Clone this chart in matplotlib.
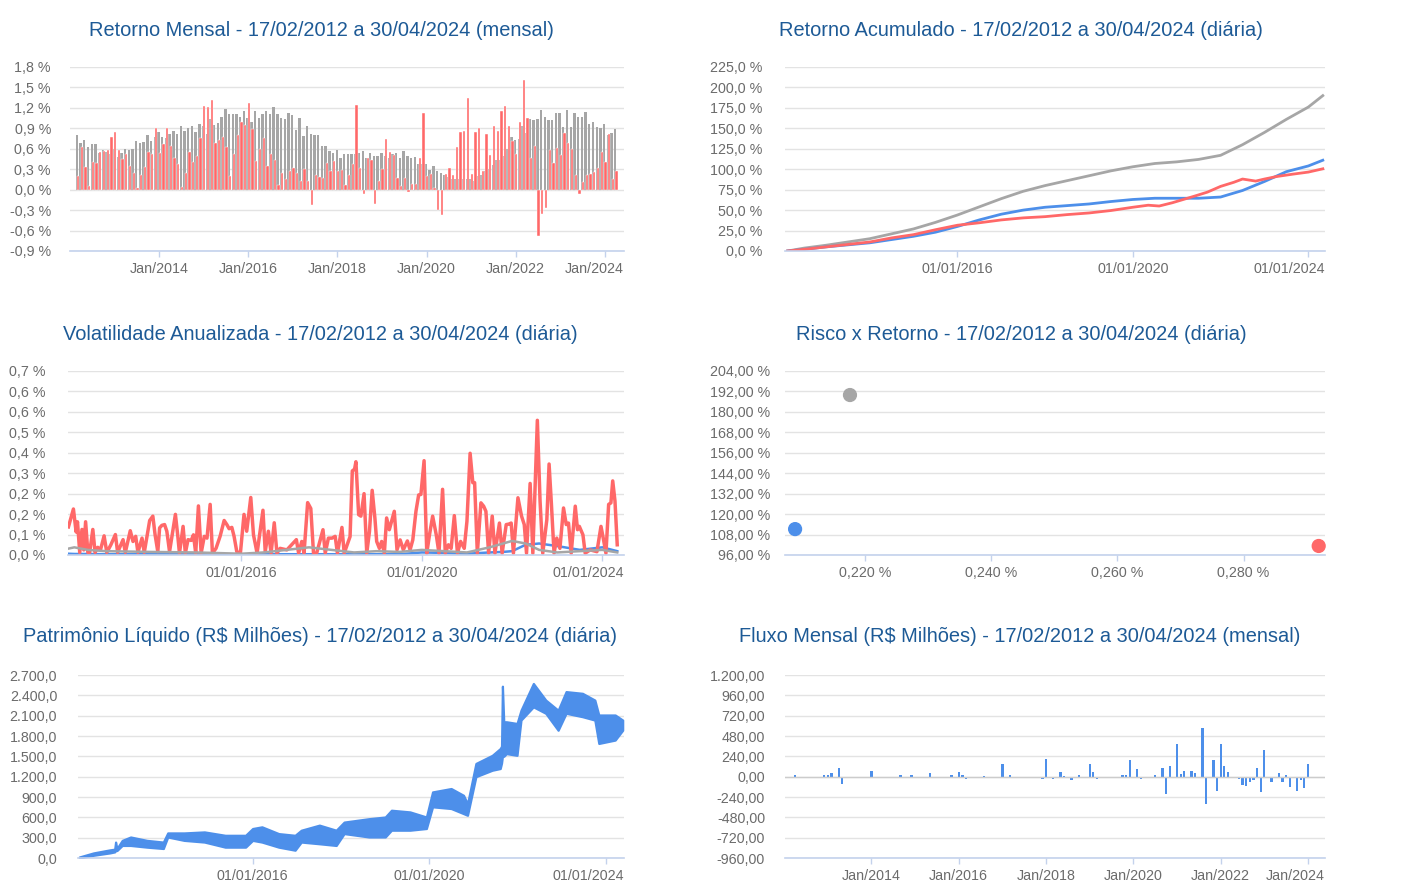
import numpy as np
import matplotlib
matplotlib.use('Agg')
import matplotlib.pyplot as plt

plt.rcParams['font.family'] = ['Liberation Sans', 'DejaVu Sans']

# ---- dados ----
# retorno mensal (%), mar/2012 .. abr/2024
fundo_mensal = [
    0.20, 0.62, 0.33, 0.06, 0.41, 0.39, 0.55, 0.57, 0.58, 0.78,              # 2012
    0.84, 0.58, 0.45, 0.53, 0.35, 0.25, 0.02, 0.22, 0.33, 0.56, 0.53, 0.90,  # 2013
    0.54, 0.67, 0.90, 0.64, 0.46, 0.38, 0.04, 0.25, 0.56, 0.41, 0.49, 0.76,  # 2014
    1.23, 1.21, 1.31, 0.69, 0.73, 0.78, 0.62, 0.20, 0.53, 0.80, 1.00, 0.95,  # 2015
    1.27, 0.89, 0.42, 0.59, 0.76, 0.34, 0.52, 0.44, 0.07, 0.25, 0.16, 0.28,  # 2016
    0.32, 0.25, 0.12, 0.30, 0.13, -0.22, 0.21, 0.18, 0.17, 0.39, 0.27, 0.42, # 2017
    0.28, 0.29, 0.07, 0.21, 0.37, 1.24, 0.32, -0.07, 0.47, 0.43, -0.21, 0.12,# 2018
    0.30, 0.74, 0.55, 0.51, 0.17, 0.05, 0.17, -0.03, 0.08, 0.08, 0.46, 1.12, # 2019
    0.20, 0.23, 0.03, -0.30, -0.37, 0.23, 0.32, 0.21, 0.62, 0.84, 0.86, 1.34,# 2020
    0.23, 0.84, 0.91, 0.28, 0.82, 0.51, 0.93, 0.86, 1.15, 1.23, 0.93, 0.72,  # 2021
    0.53, 0.99, 1.61, 1.05, 0.46, 0.64, -0.68, -0.35, -0.27, 0.58, 0.39, 0.61,  # 2022
    0.51, 0.83, 0.69, 0.59, 0.21, -0.07, 0.11, 0.22, 0.23, 0.26, 0.32, 0.55, # 2023
    0.40, 0.82, 0.15, 0.28,                                                  # 2024
]
cdi_mensal = [
    0.80, 0.69, 0.73, 0.63, 0.67, 0.67, 0.54, 0.58, 0.55, 0.53,
    0.59, 0.48, 0.54, 0.60, 0.58, 0.59, 0.71, 0.69, 0.70, 0.80, 0.71, 0.78,
    0.84, 0.78, 0.76, 0.81, 0.86, 0.82, 0.94, 0.86, 0.90, 0.94, 0.84, 0.96,
    0.93, 0.82, 1.04, 0.95, 0.98, 1.07, 1.18, 1.11, 1.11, 1.11, 1.06, 1.16,
    1.05, 1.00, 1.16, 1.05, 1.11, 1.16, 1.11, 1.21, 1.11, 1.05, 1.04, 1.12,
    1.09, 0.87, 1.05, 0.79, 0.93, 0.81, 0.80, 0.80, 0.64, 0.64, 0.57, 0.54,
    0.58, 0.47, 0.53, 0.52, 0.52, 0.52, 0.54, 0.57, 0.47, 0.54, 0.49, 0.49,
    0.54, 0.49, 0.47, 0.52, 0.54, 0.47, 0.57, 0.50, 0.46, 0.48, 0.38, 0.37,
    0.38, 0.29, 0.34, 0.28, 0.24, 0.21, 0.19, 0.16, 0.16, 0.16, 0.15, 0.16,
    0.15, 0.13, 0.20, 0.21, 0.27, 0.31, 0.36, 0.43, 0.44, 0.49, 0.59, 0.77,
    0.73, 0.75, 0.93, 0.83, 1.03, 1.02, 1.03, 1.17, 1.07, 1.02, 1.02, 1.12,
    1.12, 0.92, 1.17, 0.92, 1.12, 1.07, 1.07, 1.14, 0.97, 1.00, 0.92, 0.90,
    0.97, 0.80, 0.83, 0.89,
]
# fluxo mensal (R$ milhões)
fluxo_mensal = [
    0, 20, 0, 0, 0, 0, 0, 0, 0, 20,
    20, 40, 0, 100, -85, -20, 0, 0, -20, 0, 0, 0,
    65, 0, 0, 0, -20, 0, 0, 0, 20, 0, -20, 20,
    0, 0, 0, 0, 40, 0, -20, 0, -20, 0, 20, 0,
    50, 20, -30, 0, 0, -20, 0, 5, 0, 0, 0, -20,
    155, 0, 20, 0, 0, 0, 0, 0, -20, 0, 0, -25,
    205, 0, -30, 0, 50, 10, 0, -35, 0, 20, 0, 0,
    145, 50, -30, 0, -20, 0, 0, 0, 0, 20, 20, 195,
    0, 85, -30, 0, -20, 0, 20, 0, 100, -200, 125, 0,
    390, 30, 65, 0, 65, 40, 0, 575, -325, 0, 195, -175,
    390, 130, 50, -20, 0, -25, -95, -110, -60, -40, 100, -185,
    310, 0, -65, 0, 40, -65, 20, -125, -10, -165, -40, -135,
    145, 0, -20, 0,
]

# retorno acumulado (%)
acum_t = [2012.13, 2012.5, 2013.0, 2013.5, 2014.0, 2014.5, 2015.0, 2015.5, 2016.0,
          2016.5, 2017.0, 2017.5, 2018.0, 2018.5, 2019.0, 2019.5, 2020.0, 2020.5,
          2021.0, 2021.5, 2022.0, 2022.5, 2023.0, 2023.5, 2024.0, 2024.33]
acum_cdi = [0, 3.5, 7, 11, 15, 21, 27, 35, 44, 54, 64, 73, 80, 86, 92, 98, 103, 107,
            109, 112, 117, 130, 145, 161, 176, 190]
acum_azul = [0, 2, 5, 7.5, 10, 14, 18, 23, 30, 38, 45, 50, 53.5, 55.5, 57.5, 60.5, 63,
             64.5, 64.5, 64.5, 66, 74, 85, 97, 104, 111]
acum_fundo_t = [2012.13, 2012.5, 2013.0, 2013.5, 2014.0, 2014.5, 2015.0, 2015.5, 2016.0,
                2016.5, 2017.0, 2017.5, 2018.0, 2018.5, 2019.0, 2019.5, 2020.0, 2020.35,
                2020.6, 2020.9, 2021.4, 2021.7, 2022.0, 2022.3, 2022.5, 2022.8, 2023.0,
                2023.27, 2023.65, 2024.0, 2024.33]
acum_fundo = [0, 2, 5, 8, 11, 16, 20, 26, 31.5, 34.5, 38, 40.5, 42, 44.5, 46.5, 49.5,
              53.5, 56, 55, 59, 67, 72, 79, 84, 88, 85.5, 88, 91, 94, 96.5, 100.5]

# volatilidade anualizada (%)
vol_t = [
    2012.17, 2012.28, 2012.34, 2012.37, 2012.42, 2012.47, 2012.51, 2012.55, 2012.60, 2012.64,
    2012.71, 2012.76, 2012.82, 2012.88, 2012.96, 2013.02, 2013.11, 2013.21, 2013.26, 2013.38,
    2013.43, 2013.54, 2013.60, 2013.66, 2013.71, 2013.80, 2013.85, 2013.97, 2014.04, 2014.09,
    2014.15, 2014.19, 2014.24, 2014.30, 2014.35, 2014.41, 2014.54, 2014.59, 2014.63, 2014.71,
    2014.76, 2014.82, 2014.89, 2014.94, 2014.99, 2015.05, 2015.11, 2015.18, 2015.24, 2015.31,
    2015.36, 2015.44, 2015.53, 2015.62, 2015.68, 2015.73, 2015.79, 2015.84, 2015.90, 2015.98,
    2016.06, 2016.12, 2016.21, 2016.27, 2016.35, 2016.48, 2016.53, 2016.60, 2016.66, 2016.73,
    2016.79, 2016.86, 2017.01, 2017.22, 2017.27, 2017.34, 2017.39, 2017.47, 2017.54, 2017.60,
    2017.67, 2017.81, 2017.86, 2017.93, 2018.01, 2018.08, 2018.13, 2018.23, 2018.28, 2018.41,
    2018.46, 2018.51, 2018.54, 2018.60, 2018.65, 2018.72, 2018.78, 2018.84, 2018.90, 2018.96,
    2019.00, 2019.06, 2019.11, 2019.17, 2019.22, 2019.28, 2019.39, 2019.45, 2019.52, 2019.59,
    2019.68, 2019.74, 2019.80, 2019.87, 2019.93, 2019.98, 2020.05, 2020.11, 2020.17, 2020.24,
    2020.32, 2020.38, 2020.46, 2020.52, 2020.59, 2020.65, 2020.72, 2020.79, 2020.86, 2020.94,
    2021.00, 2021.07, 2021.13, 2021.17, 2021.23, 2021.31, 2021.37, 2021.42, 2021.48, 2021.56,
    2021.62, 2021.72, 2021.78, 2021.87, 2021.93, 2021.98, 2022.03, 2022.13, 2022.21, 2022.27,
    2022.32, 2022.40, 2022.46, 2022.56, 2022.62, 2022.68, 2022.77, 2022.82, 2022.87, 2022.93,
    2022.99, 2023.06, 2023.14, 2023.20, 2023.25, 2023.31, 2023.40, 2023.45, 2023.49, 2023.57,
    2023.62, 2023.73, 2023.88, 2023.97, 2024.02, 2024.08, 2024.14, 2024.19, 2024.23, 2024.28,
    2024.33,
]
vol_fundo = [
    0.110, 0.180, 0.090, 0.130, 0.010, 0.100, 0.020, 0.130, 0.010, 0.010,
    0.100, 0.010, 0.030, 0.020, 0.075, 0.010, 0.040, 0.080, 0.010, 0.060,
    0.010, 0.095, 0.053, 0.073, 0.010, 0.066, 0.010, 0.135, 0.152, 0.079,
    0.013, 0.106, 0.116, 0.119, 0.093, 0.013, 0.159, 0.079, 0.007, 0.112,
    0.007, 0.060, 0.057, 0.079, 0.007, 0.192, 0.007, 0.073, 0.066, 0.198,
    0.007, 0.026, 0.073, 0.135, 0.119, 0.103, 0.108, 0.073, 0.013, 0.007,
    0.159, 0.093, 0.225, 0.079, 0.007, 0.175, 0.013, 0.093, 0.007, 0.126,
    0.007, 0.026, 0.020, 0.060, 0.007, 0.053, 0.007, 0.205, 0.182, 0.007,
    0.007, 0.099, 0.007, 0.066, 0.066, 0.073, 0.007, 0.108, 0.007, 0.072,
    0.329, 0.336, 0.365, 0.158, 0.152, 0.240, 0.007, 0.092, 0.253, 0.145,
    0.053, 0.026, 0.053, 0.007, 0.145, 0.099, 0.171, 0.020, 0.059, 0.020,
    0.055, 0.020, 0.059, 0.171, 0.235, 0.237, 0.369, 0.007, 0.079, 0.152,
    0.079, 0.007, 0.257, 0.007, 0.040, 0.026, 0.154, 0.007, 0.053, 0.026,
    0.132, 0.398, 0.283, 0.283, 0.007, 0.204, 0.191, 0.171, 0.007, 0.152,
    0.007, 0.125, 0.007, 0.119, 0.121, 0.125, 0.007, 0.224, 0.152, 0.119,
    0.007, 0.280, 0.007, 0.527, 0.211, 0.007, 0.138, 0.356, 0.204, 0.007,
    0.066, 0.026, 0.184, 0.119, 0.125, 0.007, 0.191, 0.099, 0.112, 0.079,
    0.007, 0.020, 0.013, 0.112, 0.066, 0.007, 0.198, 0.204, 0.290, 0.211,
    0.040,
]
vol_bench_t = [2012.17, 2012.3, 2012.6, 2013.0, 2014.0, 2015.0, 2016.0, 2016.5, 2017.0,
               2017.5, 2018.0, 2018.5, 2019.0, 2019.5, 2020.0, 2020.5, 2021.0, 2021.5,
               2021.8, 2022.0, 2022.3, 2022.6, 2023.0, 2023.5, 2024.0, 2024.33]
vol_cdi = [0.025, 0.03, 0.02, 0.015, 0.012, 0.01, 0.005, 0.01, 0.02, 0.03, 0.02, 0.01,
           0.015, 0.012, 0.02, 0.015, 0.01, 0.03, 0.045, 0.055, 0.045, 0.02, 0.01, 0.015,
           0.02, 0.01]
vol_azul = [0.005, 0.004, 0.004, 0.003, 0.003, 0.003, 0.003, 0.003, 0.003, 0.003, 0.003,
            0.003, 0.003, 0.003, 0.01, 0.008, 0.005, 0.01, 0.012, 0.015, 0.04, 0.045,
            0.035, 0.02, 0.03, 0.015]

# risco x retorno
risco = [0.2176, 0.2089, 0.2919]
retorno = [189.9, 111.2, 101.3]

# patrimônio líquido (R$ milhões): faixa mínima / máxima
pl_t = [2012.08, 2012.4, 2012.77, 2012.88, 2012.9, 2012.93, 2013.05, 2013.24, 2013.61,
        2013.98, 2014.08, 2014.45, 2014.91, 2015.38, 2015.84, 2016.0, 2016.21, 2016.59,
        2016.96, 2017.1, 2017.51, 2017.89, 2018.07, 2018.63, 2019.0, 2019.14, 2019.56,
        2019.93, 2020.07, 2020.49, 2020.77, 2020.86, 2021.05, 2021.42, 2021.6, 2021.63,
        2021.65, 2021.68, 2021.74, 2021.98, 2022.07, 2022.35, 2022.63, 2022.91, 2023.09,
        2023.46, 2023.74, 2023.83, 2024.2, 2024.37]
pl_min = [0, 40, 75, 90, 110, 110, 185, 185, 160, 140, 310, 260, 235, 160, 160, 260, 235,
          160, 115, 235, 210, 185, 360, 310, 310, 410, 410, 435, 755, 730, 655, 630, 1200,
          1295, 1320, 1400, 1500, 1500, 1540, 1515, 2035, 2230, 2135, 1885, 2135, 2085,
          2035, 1690, 1740, 1885]
pl_max = [15, 75, 120, 130, 235, 140, 260, 310, 260, 235, 370, 370, 385, 335, 335, 435,
          460, 360, 335, 410, 485, 410, 530, 580, 605, 705, 680, 605, 975, 1025, 925, 800,
          1395, 1515, 1615, 1650, 2535, 2010, 2010, 1985, 2180, 2575, 2330, 2180, 2455,
          2430, 2330, 2110, 2110, 2035]

titulos = [
    'Retorno Mensal - 17/02/2012 a 30/04/2024 (mensal)',
    'Retorno Acumulado - 17/02/2012 a 30/04/2024 (diária)',
    'Volatilidade Anualizada - 17/02/2012 a 30/04/2024 (diária)',
    'Risco x Retorno - 17/02/2012 a 30/04/2024 (diária)',
    'Patrimônio Líquido (R$ Milhões) - 17/02/2012 a 30/04/2024 (diária)',
    'Fluxo Mensal (R$ Milhões) - 17/02/2012 a 30/04/2024 (mensal)',
]

VERMELHO = '#ff6868'
CINZA = '#a6a6a6'
AZUL = '#4d8fea'
COR_TITULO = '#1d5a96'
GRADE = '#e3e3e3'
EIXO = '#c4d2ec'
TEXTO = '#6b6b6b'
FS = 10.3

W, H = 1404, 888
fig = plt.figure(figsize=(W / 100, H / 100), dpi=100)


def eixo(l, t, r, b):
    return fig.add_axes([l / W, 1 - b / H, (r - l) / W, (b - t) / H])


def br(v, dec):
    s = f"{v + 0.0:,.{dec}f}"
    if s.startswith('-') and float(s.replace(',', '')) == 0:
        s = s[1:]
    return s.replace(',', 'X').replace('.', ',').replace('X', '.')


def estilo(ax, yticks, ylabels, ypad, xticks, xlabels, ultimo_na_borda=True):
    ax.set_ylim(yticks[0], yticks[-1])
    ax.set_yticks(yticks)
    ax.set_yticklabels(ylabels)
    ax.set_xticks(xticks)
    labels = list(xlabels)
    if ultimo_na_borda:
        ax.annotate(labels[-1], xy=(1, 0), xycoords='axes fraction', xytext=(0, -8.0),
                    textcoords='offset points', ha='right', va='top', fontsize=FS, color=TEXTO)
        labels[-1] = ''
    ax.set_xticklabels(labels)
    ax.grid(axis='y', color=GRADE, lw=1)
    ax.set_axisbelow(True)
    for s in ('top', 'right', 'left'):
        ax.spines[s].set_visible(False)
    ax.spines['bottom'].set_color(EIXO)
    ax.spines['bottom'].set_linewidth(1.2)
    ax.tick_params(axis='y', length=0, pad=ypad, labelsize=FS, labelcolor=TEXTO)
    ax.tick_params(axis='x', length=4, width=1, color=EIXO, pad=4.0, labelsize=FS, labelcolor=TEXTO)


meses = 2012 + (2 + np.arange(len(fundo_mensal))) / 12
anos_jan = [2014, 2016, 2018, 2020, 2022, 2024]
lbl_jan = [f'Jan/{a}' for a in anos_jan]
anos_dia = [2016, 2020, 2024]
lbl_dia = [f'01/01/{a}' for a in anos_dia]

# 1 - retorno mensal
ax1 = eixo(70, 67, 624, 251)
ax1.bar(meses - 0.17 / 12, cdi_mensal, width=0.62 / 12, color=CINZA, lw=0)
ax1.bar(meses + 0.17 / 12, fundo_mensal, width=0.62 / 12, color=VERMELHO,
        edgecolor='white', lw=0.3)
ax1.set_xlim(2012.0, 2024.43)
t1 = np.round(np.arange(-0.9, 1.81, 0.3), 1)
estilo(ax1, t1, [br(v, 1) + ' %' for v in t1], 13.7, anos_jan, lbl_jan)

# 2 - retorno acumulado
ax2 = eixo(785, 67, 1325, 251)
ax2.plot(acum_t, acum_cdi, color=CINZA, lw=2)
ax2.plot(acum_t, acum_azul, color=AZUL, lw=2)
ax2.plot(acum_fundo_t, acum_fundo, color=VERMELHO, lw=2)
ax2.set_xlim(2012.07, 2024.38)
t2 = np.arange(0, 226, 25.0)
estilo(ax2, t2, [br(v, 1) + ' %' for v in t2], 16.5, anos_dia, lbl_dia)

# 3 - volatilidade
ax3 = eixo(68, 371, 624, 555)
ax3.plot(vol_bench_t, vol_azul, color=AZUL, lw=1.8)
ax3.plot(vol_t, vol_fundo, color=VERMELHO, lw=2.5)
ax3.plot(vol_bench_t, vol_cdi, color=CINZA, lw=1.8)
ax3.set_xlim(2012.16, 2024.48)
t3 = np.arange(10) * 0.08
estilo(ax3, t3, [br(v, 1) + ' %' for v in t3], 16.5, anos_dia, lbl_dia)

# 4 - risco x retorno
ax4 = eixo(785, 371, 1325, 555)
ax4.scatter(risco, retorno, s=85, color=[CINZA, AZUL, VERMELHO], zorder=3, clip_on=False)
ax4.set_xlim(0.2073, 0.2929)
t4 = np.arange(96, 205, 12.0)
x4 = [0.22, 0.24, 0.26, 0.28]
estilo(ax4, t4, [br(v, 2) + ' %' for v in t4], 10.8, x4, [br(v, 3) + ' %' for v in x4],
       ultimo_na_borda=False)

# 5 - patrimônio líquido
ax5 = eixo(78, 675, 624, 858)
ax5.fill_between(pl_t, pl_min, pl_max, color=AZUL, edgecolor=AZUL, lw=1.6)
ax5.set_xlim(2012.05, 2024.40)
t5 = np.arange(0, 2701, 300.0)
estilo(ax5, t5, [br(v, 1) for v in t5], 15, anos_dia, lbl_dia)

# 6 - fluxo mensal
ax6 = eixo(785, 675, 1325, 858)
ax6.bar(meses, fluxo_mensal, width=0.62 / 12, color=AZUL)
ax6.axhline(0, color='#cccccc', lw=1, zorder=1)
ax6.set_xlim(2012.02, 2024.39)
t6 = np.arange(-960, 1201, 240.0)
estilo(ax6, t6, [br(v, 2) for v in t6], 14.4, anos_jan, lbl_jan)

pos_titulos = [(321, 30), (1021, 30), (320, 334), (1021, 334), (320, 637), (1020, 637)]
for txt, (x, y) in zip(titulos, pos_titulos):
    fig.text(x / W, 1 - y / H, txt, ha='center', va='center', fontsize=14.4, color=COR_TITULO)

fig.savefig('out.png', dpi=100)
